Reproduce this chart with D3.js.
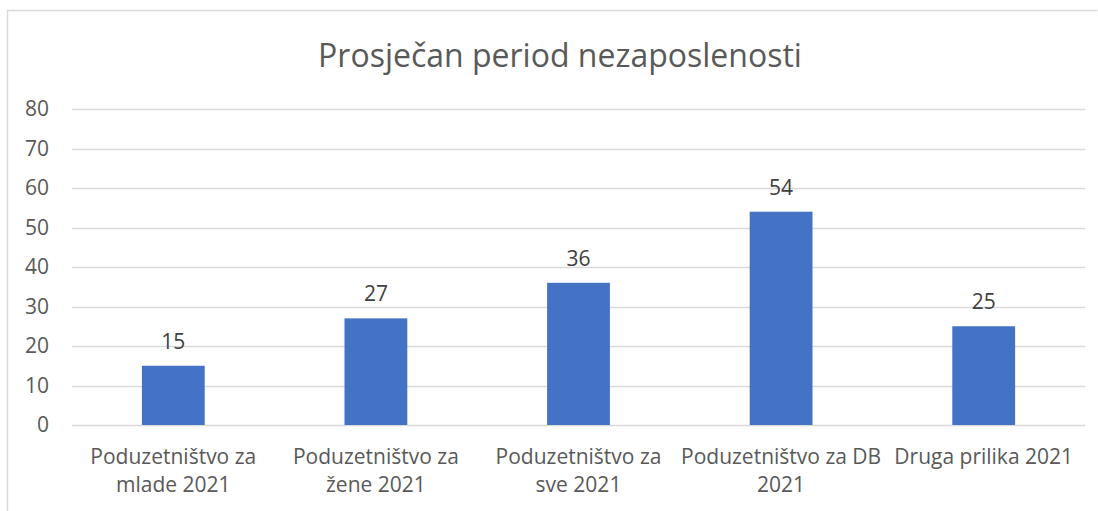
<!DOCTYPE html>
<html>
<head>
<meta charset="utf-8">
<script src="https://cdn.jsdelivr.net/npm/d3@7"></script>
<style>
  html, body { margin: 0; padding: 0; background: #fff; }
  svg { display: block; }
</style>
</head>
<body>
<svg id="chart" width="1098" height="511"></svg>
<script>
const categories = [
  ["Poduzetništvo za", "mlade 2021"],
  ["Poduzetništvo za", "žene 2021"],
  ["Poduzetništvo za", "sve 2021"],
  ["Poduzetništvo za DB", "2021"],
  ["Druga prilika 2021"]
];
const values = [15, 27, 36, 54, 25];
const yTicks = [0, 10, 20, 30, 40, 50, 60, 70, 80];
const title = "Prosječan period nezaposlenosti";

const svg = d3.select("#chart");
const font = "'Open Sans', 'Noto Sans', sans-serif";

// frame
svg.append("path")
  .attr("d", "M7.5,511 L7.5,10.5 L1097.5,10.5")
  .attr("fill", "none").attr("stroke", "#d9d9d9").attr("stroke-width", 1.5);

const plotLeft = 72, plotRight = 1085, plotTop = 109, plotBottom = 425;
const x = d3.scaleBand().domain(d3.range(values.length))
  .range([plotLeft, plotRight]).paddingInner(0.69).paddingOuter(0.345);
const y = d3.scaleLinear().domain([0, 80]).range([plotBottom, plotTop]);

// gridlines
svg.append("g").selectAll("line").data(yTicks).join("line")
  .attr("x1", plotLeft).attr("x2", plotRight)
  .attr("y1", d => Math.round(y(d)) + 0.5).attr("y2", d => Math.round(y(d)) + 0.5)
  .attr("stroke", "#d9d9d9").attr("stroke-width", 1.3);

// y axis labels
const yAxis = d3.axisLeft(y).tickValues(yTicks).tickSize(0).tickPadding(0);
const yg = svg.append("g").attr("transform", `translate(49,0)`).call(yAxis);
yg.select(".domain").remove();
yg.selectAll("text").attr("font-family", font).attr("font-size", 21).attr("fill", "#595959");

// bars
svg.append("g").selectAll("rect").data(values).join("rect")
  .attr("x", (d, i) => x(i)).attr("width", x.bandwidth())
  .attr("y", d => y(d)).attr("height", d => plotBottom - y(d))
  .attr("fill", "#4472C4");

// value labels
svg.append("g").selectAll("text").data(values).join("text")
  .attr("x", (d, i) => x(i) + x.bandwidth() / 2)
  .attr("y", d => y(d) - 17)
  .attr("text-anchor", "middle")
  .attr("font-family", font).attr("font-size", 21).attr("fill", "#404040")
  .text(d => d);

// category labels
const cg = svg.append("g").selectAll("text").data(categories).join("text")
  .attr("x", (d, i) => x(i) + x.bandwidth() / 2)
  .attr("y", 464)
  .attr("text-anchor", "middle")
  .attr("font-family", font).attr("font-size", 21).attr("fill", "#595959");
cg.selectAll("tspan").data((d, i) => d.map(t => ({t, i}))).join("tspan")
  .attr("x", d => x(d.i) + x.bandwidth() / 2)
  .attr("dy", (d, j) => j === 0 ? 0 : 28)
  .text(d => d.t);

// title
svg.append("text")
  .attr("x", 560).attr("y", 67)
  .attr("text-anchor", "middle")
  .attr("font-family", font).attr("font-size", 32).attr("fill", "#595959")
  .text(title);
</script>
</body>
</html>
